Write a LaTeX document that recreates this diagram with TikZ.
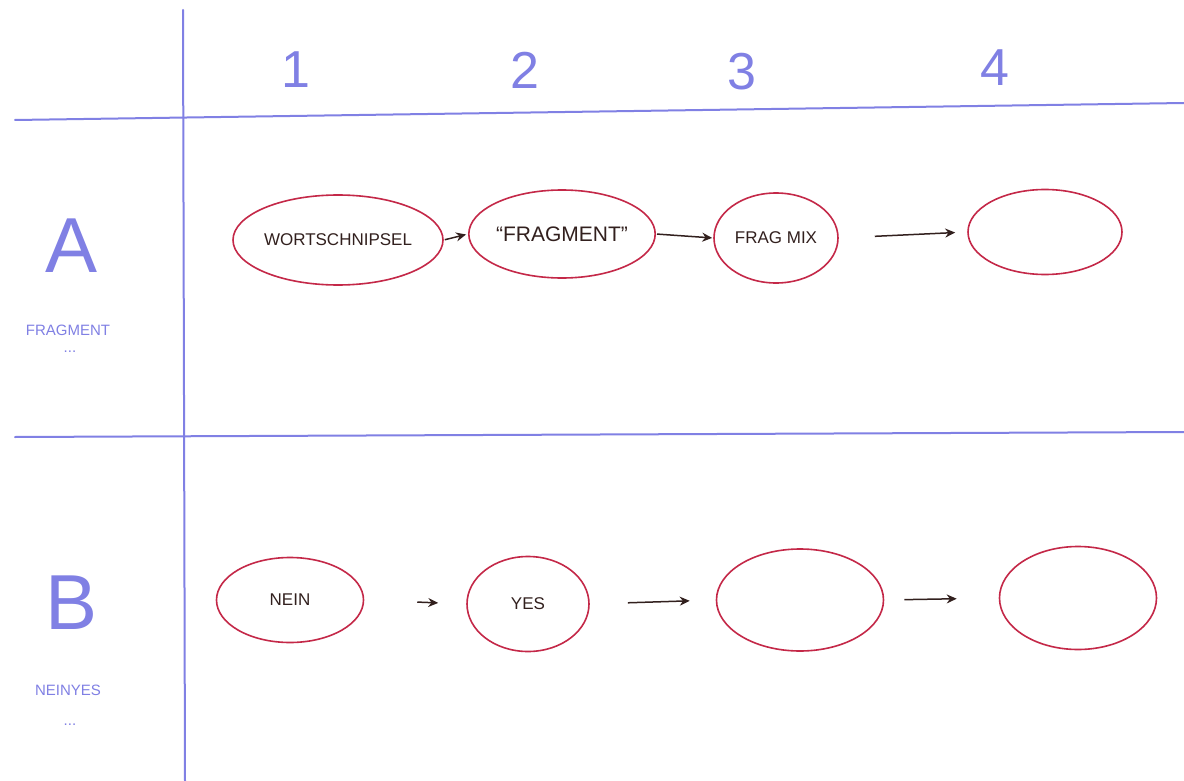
\documentclass[tikz,border=0pt]{standalone}
\usepackage{fontspec}
\setmainfont{Liberation Sans}
\usetikzlibrary{shapes.geometric,arrows.meta}
\definecolor{penblue}{RGB}{128,128,228}
\definecolor{penred}{RGB}{196,40,72}
\definecolor{ink}{RGB}{50,32,30}
\tikzset{
  grid/.style={draw=penblue, line width=2pt, line cap=round},
  colnum/.style={text=penblue, font=\fontsize{52}{52}\selectfont},
  rowletter/.style={text=penblue, font=\fontsize{78}{78}\selectfont},
  rowtag/.style={text=penblue, font=\fontsize{15}{15}\selectfont},
  blob/.style={ellipse, draw=penred, line width=1.6pt, inner sep=0pt, text=ink, font=\fontsize{17}{17}\selectfont},
  flow/.style={draw=ink, line width=1.5pt, -{Stealth[length=10pt,width=9pt]}}
}
\begin{document}
\begin{tikzpicture}[x=1pt,y=-1pt]
\useasboundingbox[fill=white] (0,0) rectangle (1184,781);
% grid lines
\coordinate (vtop) at (183,10);
\coordinate (vbot) at (185,781);
\coordinate (h1l) at (15,120);
\coordinate (h1r) at (1184,103);
\coordinate (h2l) at (15,437);
\coordinate (h2r) at (1184,432);
\draw[grid] (vtop) -- (vbot);
\draw[grid] (h1l) -- (h1r);
\draw[grid] (h2l) -- (h2r);
% column numbers
\node[colnum] (c1) at (296,70) {1};
\node[colnum] (c2) at (525,70) {2};
\node[colnum] (c3) at (742,72) {3};
\node[colnum] (c4) at (995,68) {4};
% row labels
\node[rowletter] (ra) at (72,246) {A};
\node[rowtag] (ta) at (68,330) {FRAGMENT};
\node[rowtag] (tad) at (70,352) {...};
\node[rowletter] (rb) at (72,603) {B};
\node[rowtag] (tb) at (68,690) {NEINYES};
\node[rowtag] (tbd) at (70,725) {...};
% row A
\node[blob, minimum width=210pt, minimum height=90pt] (a1) at (338,240) {WORTSCHNIPSEL};
\node[blob, minimum width=186pt, minimum height=88pt, font=\fontsize{21}{21}\selectfont] (a2) at (562,234) {\textquotedblleft FRAGMENT\textquotedblright};
\node[blob, minimum width=124pt, minimum height=90pt] (a3) at (776,238) {FRAG MIX};
\node[blob, minimum width=154pt, minimum height=85pt] (a4) at (1045,232) {};
\draw[flow, shorten <=1pt, shorten >=2pt] (a1.east) -- (a2.west);
\draw[flow, shorten <=1pt, shorten >=1pt] (a2.east) -- (a3.west);
\draw[flow, shorten <=36pt, shorten >=12pt] (a3.east) -- (a4.west);
% row B
\node[blob, minimum width=147pt, minimum height=85pt] (b1) at (290,600) {NEIN};
\node[blob, minimum width=122pt, minimum height=95pt] (b2) at (528,604) {YES};
\node[blob, minimum width=167pt, minimum height=102pt] (b3) at (800,600) {};
\node[blob, minimum width=157pt, minimum height=103pt] (b4) at (1078,598) {};
\draw[flow, shorten <=53pt, shorten >=28pt] (b1.east) -- (b2.west);
\draw[flow, shorten <=38pt, shorten >=26pt] (b2.east) -- (b3.west);
\draw[flow, shorten <=20pt, shorten >=42pt] (b3.east) -- (b4.west);
\end{tikzpicture}
\end{document}
